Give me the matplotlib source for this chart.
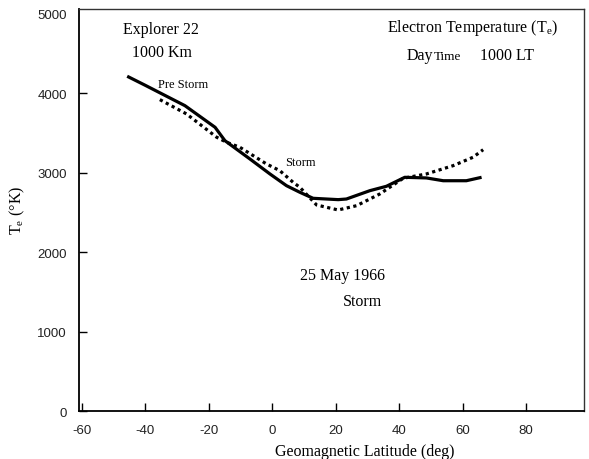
import matplotlib
matplotlib.use("Agg")
import matplotlib.pyplot as plt
from matplotlib import font_manager

# Explorer 22 electron temperature at 1000 km, 25 May 1966
lat_pre = [-45.7, -40.0, -27.5, -18.0, -14.9, -7.0, -0.7, 4.5, 8.7, 12.9,
           20.8, 23.4, 30.8, 36.0, 41.8, 48.6, 53.9, 61.2, 66.0]
te_pre = [4214, 4100, 3844, 3572, 3404, 3173, 2985, 2838, 2755, 2679,
          2662, 2670, 2775, 2830, 2943, 2935, 2900, 2900, 2943]

lat_storm = [-35.4, -27.0, -17.5, -14.4, -10.2, -1.8, 2.4, 6.6, 8.7, 14.0,
             20.8, 26.6, 33.9, 41.3, 48.6, 57.0, 63.3, 66.5]
te_storm = [3920, 3740, 3447, 3384, 3321, 3111, 3027, 2880, 2818, 2595,
            2532, 2586, 2733, 2931, 2985, 3089, 3195, 3290]

x_ticks = [-60, -40, -20, 0, 20, 40, 60, 80]
y_ticks = [0, 1000, 2000, 3000, 4000, 5000]

installed = {f.name for f in font_manager.fontManager.ttflist}
serif = "Liberation Serif"
tick_font = "Liberation Sans Narrow" if "Liberation Sans Narrow" in installed else "Liberation Sans"

plt.rcParams["font.family"] = [serif, "DejaVu Serif"]
plt.rcParams["mathtext.fontset"] = "custom"
plt.rcParams["mathtext.rm"] = serif
plt.rcParams["mathtext.it"] = serif + ":italic"
plt.rcParams["axes.unicode_minus"] = False

fig = plt.figure(figsize=(5.89, 4.60), dpi=100)
ax = fig.add_axes([0.1346, 0.1037, 0.8570, 0.8746])

ax.plot(lat_pre, te_pre, color="black", lw=2.3, solid_capstyle="butt")
ax.plot(lat_storm, te_storm, color="black", lw=2.3, linestyle=(0, (1, 1.1)))

ax.set_xlim(-60.8, 98.3)
ax.set_ylim(0, 5060)
ax.set_xticks(x_ticks)
ax.set_yticks(y_ticks)
ax.tick_params(direction="in", length=6, width=1.0, pad=9, labelsize=9.5)
for lbl in ax.get_xticklabels() + ax.get_yticklabels():
    lbl.set_family(tick_font)
    lbl.set_color("#222222")
ax.yaxis.get_major_ticks()[-1].tick1line.set_visible(False)

for side in ["left", "bottom"]:
    ax.spines[side].set_linewidth(1.3)
for side in ["top", "right"]:
    ax.spines[side].set_linewidth(1.0)
    ax.spines[side].set_color("#333333")

ax.set_xlabel("Geomagnetic Latitude (deg)", fontsize=11.5)
ax.xaxis.set_label_coords(0.566, -0.078)
ax.set_ylabel(r"T$_\mathrm{e}$ (°K)", fontsize=11.5)
ax.yaxis.set_label_coords(-0.103, 0.503)

ax.text(-35.0, 4809, "Explorer 22", fontsize=11.5, ha="center", va="center")
ax.text(-34.7, 4520, "1000 Km", fontsize=11.5, ha="center", va="center")
ax.text(63.3, 4834, r"Electron Temperature (T$_\mathrm{e}$)", fontsize=11.5,
        ha="center", va="center")
ax.text(42.5, 4432, "Day", fontsize=11.5, ha="left", va="baseline")
ax.text(50.9, 4432, "Time", fontsize=9.5, ha="left", va="baseline")
ax.text(65.5, 4432, "1000 LT", fontsize=11.5, ha="left", va="baseline")

ax.text(-28.1, 4117, "Pre Storm", fontsize=9, ha="center", va="center")
ax.text(8.8, 3135, "Storm", fontsize=9, ha="center", va="center")

ax.text(22.2, 1715, "25 May 1966", fontsize=11.5, ha="center", va="center")
ax.text(28.5, 1388, "Storm", fontsize=11.5, ha="center", va="center")

fig.savefig("out.png", dpi=100)
